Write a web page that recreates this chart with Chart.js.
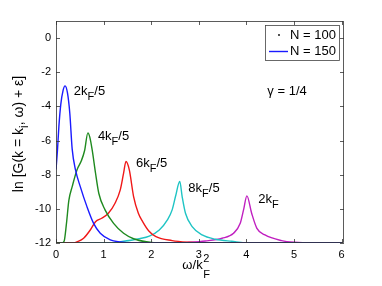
<!DOCTYPE html>
<html>
<head>
<meta charset="utf-8">
<script src="https://cdn.jsdelivr.net/npm/chart.js@4.4.0/dist/chart.umd.min.js"></script>
<style>
  html, body { margin: 0; padding: 0; background: #fff; }
</style>
</head>
<body>
<canvas id="chart" width="382" height="286"></canvas>
<script>
// ---------------- DATA ----------------
const xTicks = [0, 1, 2, 3, 4, 5, 6];
const yTicks = [-12, -10, -8, -6, -4, -2, 0];

// k = 2kF/5
const blueX = [0, 0.03, 0.06, 0.1, 0.15, 0.19, 0.24, 0.29, 0.34, 0.41, 0.51, 0.65, 0.79, 0.93, 1.14, 1.35, 1.6, 6];
const blueY = [-7.7, -6.6, -5.2, -3.9, -3.05, -2.8, -3.2, -4.4, -6.5, -7.72, -8.7, -9.87, -10.85, -11.43, -11.82, -11.94, -12, -12];

// k = 4kF/5
const greenX = [0, 0.12, 0.17, 0.22, 0.27, 0.34, 0.44, 0.53, 0.6, 0.67, 0.71, 0.76, 0.83, 0.9, 1.03, 1.21, 1.42, 1.63, 1.9, 2.2, 6];
const greenY = [-12, -12, -11.9, -10.85, -9.5, -8.7, -7.72, -7.2, -6.6, -5.55, -5.8, -6.55, -7.9, -9.1, -10.06, -10.85, -11.43, -11.75, -11.93, -12, -12];

// k = 6kF/5
const redX = [0, 0.38, 0.44, 0.58, 0.72, 0.83, 0.96, 1.1, 1.24, 1.35, 1.42, 1.47, 1.54, 1.63, 1.73, 1.82, 1.95, 2.1, 2.44, 2.79, 3.1, 6];
const redY = [-12, -12, -11.94, -11.72, -11.24, -10.75, -10.55, -10.26, -9.67, -8.89, -7.91, -7.23, -7.72, -9.28, -10.26, -10.75, -11.3, -11.63, -11.86, -11.96, -12, -12];

// k = 8kF/5
const cyanX = [0, 1.1, 1.42, 1.75, 1.96, 2.17, 2.34, 2.44, 2.51, 2.6, 2.65, 2.72, 2.86, 3.07, 3.35, 3.69, 4.1, 6];
const cyanY = [-12, -12, -11.9, -11.75, -11.6, -11.24, -10.65, -10.06, -9.28, -8.4, -9.28, -10.26, -11.04, -11.53, -11.78, -11.9, -12, -12];

// k = 2kF
const magentaX = [0, 2.5, 2.8, 3.14, 3.49, 3.73, 3.87, 3.94, 4.01, 4.11, 4.22, 4.39, 4.74, 5.0, 5.4, 6];
const magentaY = [-12, -12, -11.96, -11.88, -11.72, -11.43, -10.85, -10.06, -9.24, -10.26, -11.14, -11.53, -11.86, -11.96, -12, -12];

const curveLabels = ["2kF/5", "4kF/5", "6kF/5", "8kF/5", "2kF"];
const curveColors = ["#1a1aff", "#1f8a1f", "#f01818", "#1fc4c4", "#c020c0"];

// text annotations: [parts, x, y] in data units (left edge, baseline)
const notes = [
  [[["2k", "n"], ["F", "sub"], ["/5", "n"]], 0.375, -3.32],
  [[["4k", "n"], ["F", "sub"], ["/5", "n"]], 0.88, -5.96],
  [[["6k", "n"], ["F", "sub"], ["/5", "n"]], 1.68, -7.53],
  [[["8k", "n"], ["F", "sub"], ["/5", "n"]], 2.78, -8.99],
  [[["2k", "n"], ["F", "sub"]], 4.25, -9.67],
  [[["\u03b3 = 1/4", "n"]], 4.44, -3.32]
];

const FONT = '"Liberation Sans", Arial, Helvetica, sans-serif';

function toPoints(xs, ys) {
  return xs.map((x, i) => ({ x: x, y: ys[i] }));
}

// draws text with sub/superscripts, returns width
function drawRich(ctx, parts, x, y, size) {
  let cx = x;
  parts.forEach(([t, kind]) => {
    const fs = kind === "n" ? size : Math.round(size * 0.85);
    ctx.font = fs + "px " + FONT;
    const dy = kind === "sub" ? size * 0.38 : kind === "sup" ? -size * 0.45 : 0;
    ctx.fillText(t, cx, y + dy);
    cx += ctx.measureText(t).width;
  });
  return cx - x;
}

function richWidth(ctx, parts, size) {
  let w = 0;
  parts.forEach(([t, kind]) => {
    const fs = kind === "n" ? size : Math.round(size * 0.85);
    ctx.font = fs + "px " + FONT;
    w += ctx.measureText(t).width;
  });
  return w;
}

// ---------------- DECORATION PLUGIN ----------------
const decorations = {
  id: "decorations",
  afterDatasetsDraw(chart) {
    const { ctx, chartArea: a, scales } = chart;
    const xs = scales.x, ys = scales.y;
    ctx.save();

    // frame + inward ticks
    ctx.strokeStyle = "#333";
    ctx.lineWidth = 0.8;
    ctx.strokeRect(a.left + 0.5, a.top + 0.5, a.right - a.left - 1, a.bottom - a.top - 1);
    ctx.beginPath();
    xTicks.forEach(v => {
      const px = Math.round(xs.getPixelForValue(v)) + 0.5;
      ctx.moveTo(px, a.bottom); ctx.lineTo(px, a.bottom - 4);
      ctx.moveTo(px, a.top); ctx.lineTo(px, a.top + 4);
    });
    yTicks.forEach(v => {
      const py = Math.round(ys.getPixelForValue(v)) + 0.5;
      ctx.moveTo(a.left, py); ctx.lineTo(a.left + 4, py);
      ctx.moveTo(a.right, py); ctx.lineTo(a.right - 4, py);
    });
    ctx.stroke();

    // annotations
    ctx.fillStyle = "#000";
    ctx.textBaseline = "alphabetic";
    ctx.textAlign = "left";
    notes.forEach(([parts, x, y]) => {
      drawRich(ctx, parts, xs.getPixelForValue(x), ys.getPixelForValue(y), 13);
    });

    // legend box
    const lx = 265, ly = 25, lw = 74, lh = 35;
    ctx.fillStyle = "#fff";
    ctx.fillRect(lx, ly, lw, lh);
    ctx.strokeStyle = "#444";
    ctx.lineWidth = 0.8;
    ctx.strokeRect(lx + 0.5, ly + 0.5, lw, lh);
    ctx.fillStyle = "#000";
    ctx.beginPath();
    ctx.arc(279, 35, 0.9, 0, Math.PI * 2);
    ctx.fill();
    ctx.strokeStyle = curveColors[0];
    ctx.lineWidth = 1.4;
    ctx.beginPath();
    ctx.moveTo(269, 51.5); ctx.lineTo(288, 51.5);
    ctx.stroke();
    ctx.font = "13px " + FONT;
    ctx.textBaseline = "middle";
    ctx.fillText("N = 100", 290, 35);
    ctx.fillText("N = 150", 290, 51);

    // x title: omega / kF^2
    ctx.textBaseline = "alphabetic";
    ctx.font = "13px " + FONT;
    const base = "\u03c9/k";
    const bw = ctx.measureText(base).width;
    const sx = 196 - (bw + 7) / 2;
    ctx.fillText(base, sx, 269);
    ctx.font = "11px " + FONT;
    ctx.fillText("2", sx + bw + 0.5, 262);
    ctx.fillText("F", sx + bw + 0.5, 278);

    // y title (rotated)
    const yParts = [["ln [G(k = k", "n"], ["i", "sub"], [", \u03c9) + \u03b5]", "n"]];
    ctx.translate(23, 134);
    ctx.rotate(-Math.PI / 2);
    const tw = richWidth(ctx, yParts, 14);
    drawRich(ctx, yParts, -tw / 2, 0, 14);

    ctx.restore();
  }
};

// ---------------- CHART ----------------
const seriesX = [blueX, greenX, redX, cyanX, magentaX];
const seriesY = [blueY, greenY, redY, cyanY, magentaY];

const datasets = seriesX.map((xs, i) => ({
  label: curveLabels[i],
  data: toPoints(xs, seriesY[i]),
  borderColor: curveColors[i],
  borderWidth: 1.4,
  pointRadius: 0,
  fill: false,
  cubicInterpolationMode: "monotone"
}));

new Chart(document.getElementById("chart").getContext("2d"), {
  type: "line",
  data: { datasets: datasets },
  options: {
    responsive: false,
    animation: false,
    devicePixelRatio: 1,
    layout: { padding: { top: 21, right: 38, left: 0, bottom: 0 } },
    plugins: { legend: { display: false }, tooltip: { enabled: false } },
    scales: {
      x: {
        type: "linear",
        min: 0,
        max: 6.05,
        afterBuildTicks: s => { s.ticks = xTicks.map(v => ({ value: v })); },
        afterFit: s => { s.height = 43; },
        grid: { display: false, drawTicks: false },
        border: { display: false },
        ticks: { padding: 5, color: "#000", font: { family: FONT, size: 11 }, maxRotation: 0 }
      },
      y: {
        type: "linear",
        min: -12,
        max: 1,
        afterBuildTicks: s => { s.ticks = yTicks.map(v => ({ value: v })); },
        afterFit: s => { s.width = 56; },
        grid: { display: false, drawTicks: false },
        border: { display: false },
        ticks: { padding: 5, color: "#000", font: { family: FONT, size: 11 } }
      }
    }
  },
  plugins: [decorations]
});
</script>
</body>
</html>
